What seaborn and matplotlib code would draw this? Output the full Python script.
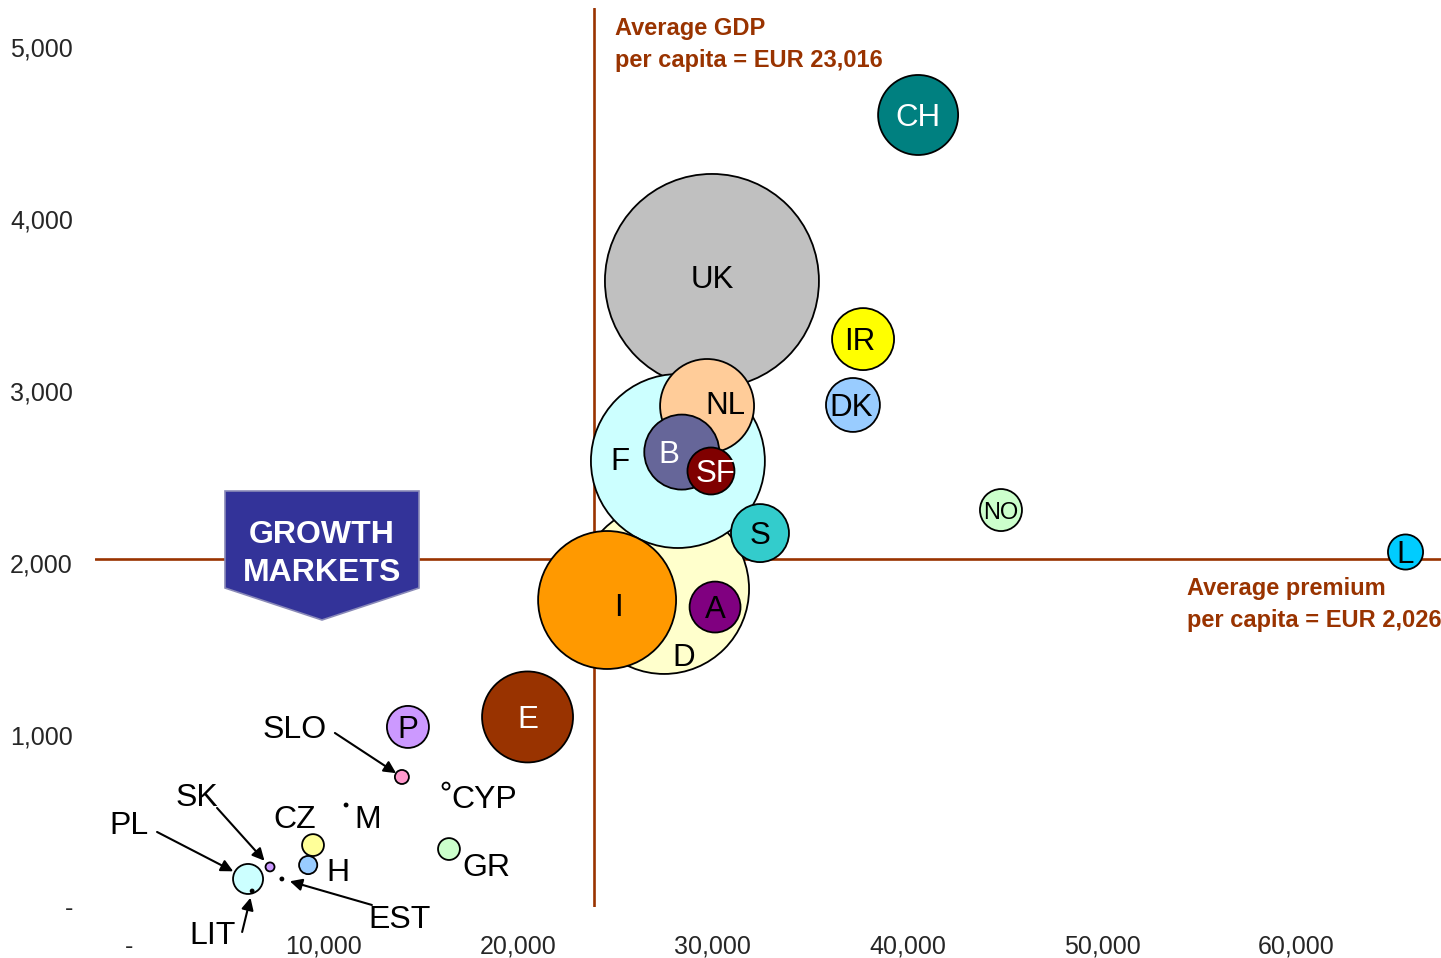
import matplotlib
matplotlib.use("Agg")
import matplotlib.pyplot as plt
import matplotlib.transforms as mtransforms
from matplotlib.patches import Polygon
import seaborn as sns
import pandas as pd

# ---------------- data ----------------
countries = ["UK", "D", "F", "I", "NL", "B", "SF", "S", "A", "E", "CH", "IR", "DK",
             "NO", "L", "P", "SLO", "CYP", "M", "CZ", "H", "GR", "SK", "EST", "PL", "LIT"]
gdp_per_capita = [29950, 27490, 28200, 24560, 29700, 28400, 29900, 32420, 30110, 20470,
                  40550, 37720, 37200, 44810, 65610, 14320, 14010, 16280, 11140, 9440,
                  9190, 16430, 7230, 7840, 6100, 6310]
premium_per_capita = [3640, 1849, 2593, 1785, 2913, 2645, 2535, 2174, 1744, 1105,
                      4605, 3302, 2919, 2308, 2064, 1047, 756, 703, 593, 360,
                      244, 337, 233, 163, 163, 93]
premium_volume = [249, 157, 164.5, 103.5, 48, 30.6, 12, 18.3, 14.1, 45,
                  34.8, 20.9, 15.8, 9.6, 6.7, 9.6, 1.07, 0.27, 0.05, 2.6,
                  1.8, 2.6, 0.44, 0.05, 4.9, 0.05]
bubble_colors = ["#C0C0C0", "#FFFFCC", "#CCFFFF", "#FF9900", "#FFCC99", "#666699", "#800000",
                 "#33CCCC", "#800080", "#993300", "#008080", "#FFFF00", "#99CCFF",
                 "#CCFFCC", "#00CCFF", "#CC99FF", "#FF99CC", "#FFFFFF", "#000000", "#FFFF99",
                 "#99CCFF", "#CCFFCC", "#CC99FF", "#000000", "#CCFFFF", "#000000"]

avg_gdp_label = "23,016"
avg_gdp_line = 23900        # where the reference draws the vertical line
avg_premium = 2026

x_ticks = [0, 10000, 20000, 30000, 40000, 50000, 60000]
x_tick_labels = ["-", "10,000", "20,000", "30,000", "40,000", "50,000", "60,000"]
y_ticks = [0, 1000, 2000, 3000, 4000, 5000]
y_tick_labels = ["-", "1,000", "2,000", "3,000", "4,000", "5,000"]

df = pd.DataFrame({"country": countries, "gdp": gdp_per_capita,
                   "premium": premium_per_capita, "volume": premium_volume})

# ---------------- style ----------------
sns.set_theme(style="white")
plt.rcParams["font.family"] = ["Liberation Sans", "DejaVu Sans"]

W, H = 1441, 958
fig = plt.figure(figsize=(W / 100, H / 100), dpi=100)
ax = fig.add_axes([95 / W, (H - 907) / H, (1441 - 95) / W, (907 - 8) / H])
PX = mtransforms.Affine2D().scale(1 / W, -1 / H).translate(0, 1) + fig.transFigure

BROWN = "#993300"
ax.axhline(avg_premium, color=BROWN, lw=1.9, zorder=0)
ax.axvline(avg_gdp_line, color=BROWN, lw=1.9, zorder=0)

vmax = max(premium_volume)
smax = (1.44 * 107) ** 2
sns.scatterplot(data=df, x="gdp", y="premium", hue="country",
                palette=dict(zip(countries, bubble_colors)),
                size="volume", sizes=(0, smax), size_norm=(0, vmax),
                edgecolor="black", linewidth=1.3, alpha=1, legend=False, ax=ax, zorder=2)

ax.set_xlim(-1769, 67434)
ax.set_ylim(0, 5227)
ax.set_xticks(x_ticks)
ax.set_xticklabels(x_tick_labels, fontsize=18)
ax.set_yticks(y_ticks)
ax.set_yticklabels(y_tick_labels, fontsize=18)
ax.tick_params(axis="x", length=0, pad=20)
ax.tick_params(axis="y", length=0, pad=16)
ax.set_xlabel("")
ax.set_ylabel("")
for sp in ax.spines.values():
    sp.set_visible(False)

# ---------------- bubble labels ----------------
inside_offsets = {"F": (-58, -2), "B": (-13, 0), "SF": (5, 0), "NL": (18, -3),
                  "D": (20, 66), "UK": (0, -4), "IR": (-3, 0), "DK": (-2, 0), "I": (11, 5)}
white_text = {"CH", "B", "SF", "E"}
inside = ["UK", "D", "F", "I", "NL", "B", "SF", "S", "A", "E", "CH", "IR", "DK", "NO", "L", "P"]
plain_outside = {"CYP": (38, 11), "M": (22, 12), "CZ": (-18, -28), "H": (30, 5), "GR": (37, 16)}
arrow_outside = {  # text offset, arrow start offset, arrow shrink (pt)
    "SLO": ((-107, -50), (-67, -44), 5),
    "SK": ((-73, -72), (-53, -59), 6),
    "PL": ((-119, -56), (-91, -47), 12),
    "EST": ((118, 38), (90, 26), 6),
    "LIT": ((-40, 42), (-10, 41), 5),
}
TS = 3  # vertical text nudge in px

for c, gx, py in zip(countries, gdp_per_capita, premium_per_capita):
    if c in inside:
        dx, dy = inside_offsets.get(c, (0, 0))
        ax.annotate(c, (gx, py), xytext=(dx * 0.72, -(dy + TS) * 0.72), textcoords="offset points",
                    ha="center", va="center", fontsize=17 if c == "NO" else 22.5,
                    color="white" if c in white_text else "black", zorder=5)
    elif c in plain_outside:
        dx, dy = plain_outside[c]
        ax.annotate(c, (gx, py), xytext=(dx * 0.72, -(dy + TS) * 0.72), textcoords="offset points",
                    ha="center", va="center", fontsize=23, color="black", zorder=5)
    elif c in arrow_outside:
        (tx, ty), (sx, sy), shrink = arrow_outside[c]
        ax.annotate(c, (gx, py), xytext=(tx * 0.72, -(ty + TS) * 0.72), textcoords="offset points",
                    ha="center", va="center", fontsize=23, color="black", zorder=5,
                    annotation_clip=False)
        ax.annotate("", (gx, py), xytext=(sx * 0.72, -sy * 0.72), textcoords="offset points",
                    arrowprops=dict(arrowstyle="-|>", color="black", lw=1.5, shrinkA=0,
                                    shrinkB=shrink, mutation_scale=18),
                    zorder=5, annotation_clip=False)

# ---------------- average annotations ----------------
fig.text(615, 29, "Average GDP", transform=PX, fontsize=17, fontweight="bold",
         color=BROWN, ha="left", va="center")
fig.text(615, 61, "per capita = EUR " + avg_gdp_label, transform=PX, fontsize=17,
         fontweight="bold", color=BROWN, ha="left", va="center")
fig.text(1187, 589, "Average premium", transform=PX, fontsize=17, fontweight="bold",
         color=BROWN, ha="left", va="center")
fig.text(1187, 621, "per capita = EUR {:,}".format(avg_premium), transform=PX, fontsize=17,
         fontweight="bold", color=BROWN, ha="left", va="center")

# ---------------- growth markets badge ----------------
badge = Polygon([(225, 491), (419, 491), (419, 588), (322, 620), (225, 588)], closed=True,
                facecolor="#333399", edgecolor="#8A8AB8", lw=1.2, transform=PX, zorder=10)
fig.patches.append(badge)
fig.text(322, 535, "GROWTH", transform=PX, fontsize=23, fontweight="bold", color="white",
         ha="center", va="center", zorder=11)
fig.text(322, 573, "MARKETS", transform=PX, fontsize=23, fontweight="bold", color="white",
         ha="center", va="center", zorder=11)

fig.savefig("out.png", dpi=100, facecolor="white")
